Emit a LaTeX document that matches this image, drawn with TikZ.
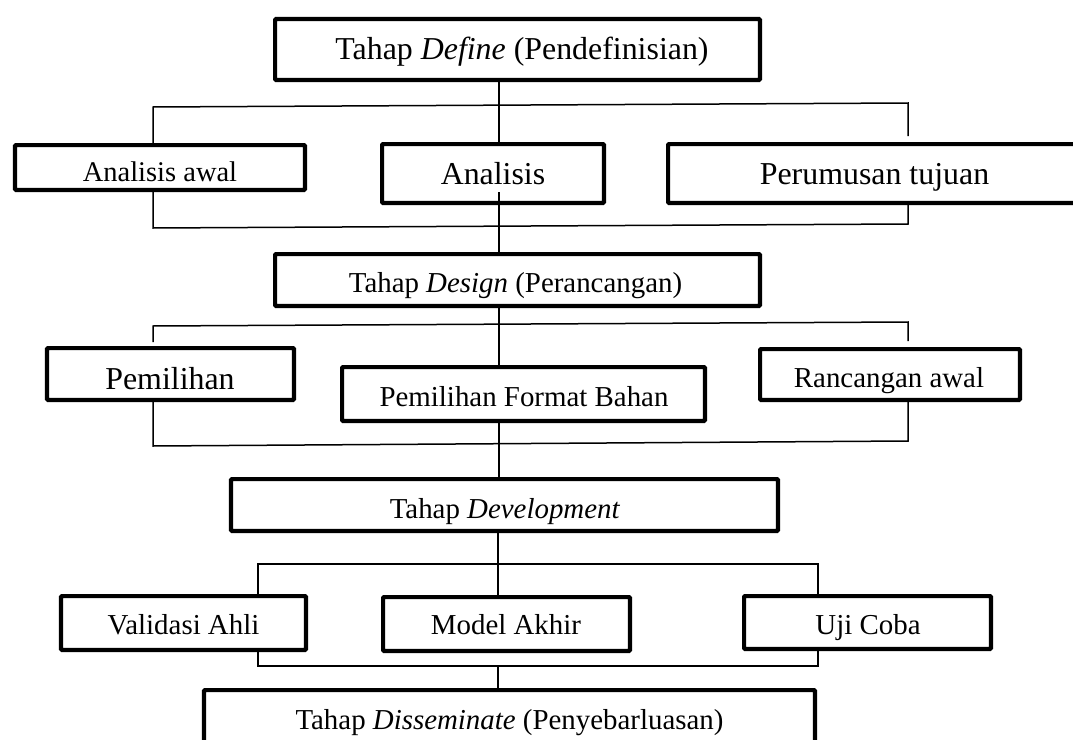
\documentclass[tikz,border=0pt]{standalone}
\usepackage{fontspec}
\setmainfont{Liberation Serif}
\usetikzlibrary{calc}
\begin{document}
\begin{tikzpicture}[x=1bp,y=-1bp,
  box/.style={draw=black, line width=4.2bp, rounded corners=1bp, inner sep=0pt, fill=none},
  conn/.style={draw=black, line width=1.5bp},
  big/.style={anchor=base, inner sep=0pt, font=\fontsize{32}{38}\selectfont},
  mid/.style={anchor=base, inner sep=0pt, font=\fontsize{29}{35}\selectfont},
  sml/.style={anchor=base, inner sep=0pt, font=\fontsize{28.6}{34}\selectfont}]
\useasboundingbox (0,0) rectangle (1073,740);
\fill[white] (0,0) rectangle (1073,740);

% ---- boxes (centre, size measured at line centre) ----
\node[box, minimum width=484.8bp, minimum height=60.8bp] (d1) at (517.5,49.5) {};
\node[box, minimum width=289.8bp, minimum height=44.8bp] (aa) at (160,167.5) {};
\node[box, minimum width=221.8bp, minimum height=58.8bp] (an) at (493,173.5) {};
\node[box, minimum width=429.8bp, minimum height=58.8bp] (pt) at (883,173.5) {};
\node[box, minimum width=484.8bp, minimum height=51.8bp] (ds) at (517.5,280) {};
\node[box, minimum width=246.8bp, minimum height=51.8bp] (pe) at (170.5,374) {};
\node[box, minimum width=362.8bp, minimum height=53.8bp] (pf) at (523.5,394) {};
\node[box, minimum width=259.8bp, minimum height=50.8bp] (ra) at (890,374.5) {};
\node[box, minimum width=546.8bp, minimum height=51.8bp] (dv) at (504.5,505) {};
\node[box, minimum width=244.8bp, minimum height=53.8bp] (va) at (183.5,623) {};
\node[box, minimum width=246.8bp, minimum height=53.8bp] (ma) at (506.5,624) {};
\node[box, minimum width=246.8bp, minimum height=52.8bp] (uc) at (867.5,622.5) {};
\node[box, minimum width=610.8bp, minimum height=77.8bp] (dm) at (509.5,729) {};

% ---- texts ----
\node[big] (t1) at (522,60) {Tahap \textit{Define} (Pendefinisian)};
\node[sml] (taa) at (160,181) {Analisis awal};
\node[big] (tan) at (493,184) {Analisis};
\node[big] (tpt) at (874.5,184) {Perumusan tujuan};
\node[mid] (tds) at (515.5,292) {Tahap \textit{Design} (Perancangan)};
\node[big] (tpe) at (170,389) {Pemilihan};
\node[mid] (tpf) at (524,406) {Pemilihan Format Bahan};
\node[mid] (tra) at (889,387) {Rancangan awal};
\node[mid] (tdv) at (505,518) {Tahap \textit{Development}};
\node[mid] (tva) at (183.5,634) {Validasi Ahli};
\node[mid] (tma) at (506,634) {Model Akhir};
\node[mid] (tuc) at (868,634) {Uji Coba};
\node[mid] (tdm) at (509.5,729) {Tahap \textit{Disseminate} (Penyebarluasan)};

% ---- connector points ----
\coordinate (c1a) at (499,82);
\coordinate (c1b) at (499,142);
\coordinate (b1l) at (153,107);
\coordinate (b1r) at (908,103);
\coordinate (b1e) at (908,136);
\coordinate (b2l) at (153,228);
\coordinate (b2r) at (908,224);
\coordinate (c2a) at (499,192);
\coordinate (c2b) at (499,252);
\coordinate (c3a) at (499,308);
\coordinate (c3b) at (499,365);
\coordinate (b3l) at (153,326);
\coordinate (b3s) at (153,342);
\coordinate (b3r) at (908,322);
\coordinate (b3e) at (908,341);
\coordinate (b4l) at (153,446);
\coordinate (b4r) at (908,441);
\coordinate (c4a) at (499,423);
\coordinate (c4b) at (499,477);
\coordinate (c5a) at (498,533);
\coordinate (c5b) at (498,595);
\coordinate (b5l) at (258,564);
\coordinate (b5r) at (818,564);
\coordinate (b6l) at (258,666);
\coordinate (b6r) at (818,666);
\coordinate (c6a) at (498,666);
\coordinate (c6b) at (498,688);

% ---- Define level ----
\draw[conn] (c1a) -- (c1b);
\draw[conn] (b1l |- aa.north) -- (b1l) -- (b1r) -- (b1e);
\draw[conn] (aa.south -| b2l) -- (b2l) -- (b2r) -- (b2r |- pt.south);
\draw[conn] (c2a) -- (c2b);
% ---- Design level ----
\draw[conn] (c3a) -- (c3b);
\draw[conn] (b3s) -- (b3l) -- (b3r) -- (b3e);
\draw[conn] (pe.south -| b4l) -- (b4l) -- (b4r) -- (b4r |- ra.south);
\draw[conn] (c4a) -- (c4b);
% ---- Development level ----
\draw[conn] (c5a) -- (c5b);
\draw[conn] (b5l |- va.north) -- (b5l) -- (b5r) -- (b5r |- uc.north);
\draw[conn] (va.south -| b6l) -- (b6l) -- (b6r) -- (b6r |- uc.south);
\draw[conn] (c6a) -- (c6b);
\end{tikzpicture}
\end{document}
